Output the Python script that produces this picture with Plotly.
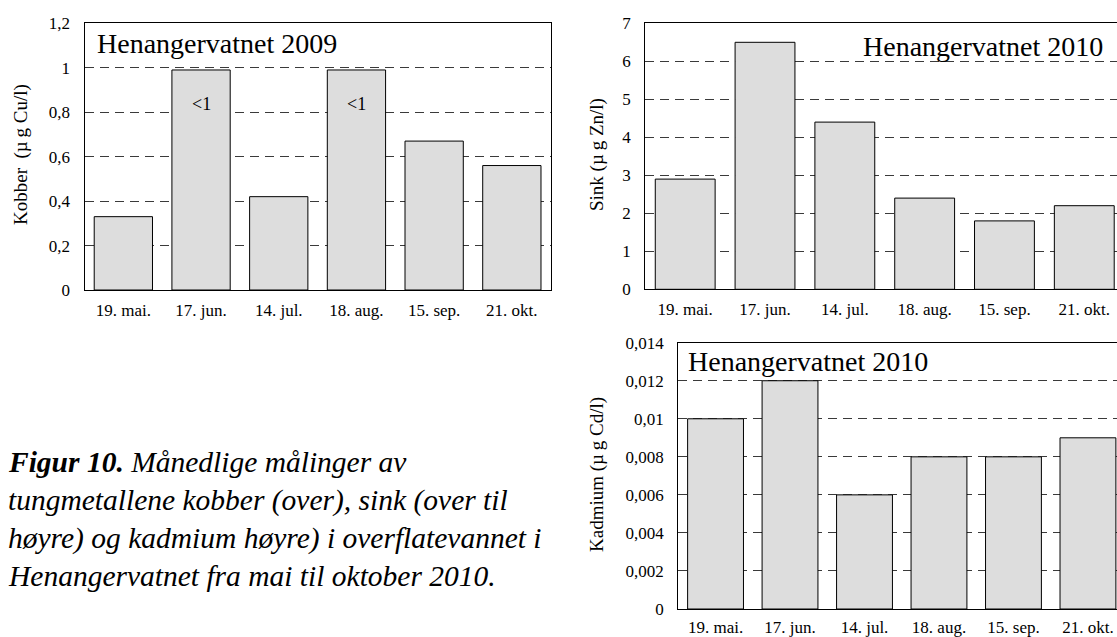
import plotly.graph_objects as go

# ---------------- data ----------------
categories = ["19. mai.", "17. jun.", "14. jul.", "18. aug.", "15. sep.", "21. okt."]
kobber_2009 = [0.33, 0.99, 0.42, 0.99, 0.67, 0.56]
sink_2010 = [2.9, 6.5, 4.4, 2.4, 1.8, 2.2]
kadmium_2010 = [0.010, 0.012, 0.006, 0.008, 0.008, 0.009]

kobber_tickvals = [0, 0.2, 0.4, 0.6, 0.8, 1.0, 1.2]
kobber_ticktext = ["0", "0,2", "0,4", "0,6", "0,8", "1", "1,2"]
sink_tickvals = [0, 1, 2, 3, 4, 5, 6, 7]
sink_ticktext = ["0", "1", "2", "3", "4", "5", "6", "7"]
kadmium_tickvals = [0, 0.002, 0.004, 0.006, 0.008, 0.010, 0.012, 0.014]
kadmium_ticktext = ["0", "0,002", "0,004", "0,006", "0,008", "0,01", "0,012", "0,014"]

below_limit_labels = ["", "<1", "", "<1", "", ""]
caption_lines = [
    "<b><i>Figur 10.</i></b><i> Månedlige målinger av</i>",
    "<i>tungmetallene kobber (over), sink (over til</i>",
    "<i>høyre) og kadmium høyre) i overflatevannet i</i>",
    "<i>Henangervatnet fra mai til oktober 2010.</i>",
]

# ---------------- layout helpers ----------------
W, H = 1117, 637
FONT = "Liberation Serif, Times New Roman, serif"
BAR_FILL = "#dddddd"
GRID = dict(showgrid=True, gridcolor="#3a3a3a", gridwidth=1, griddash="9px,6px")


def px_x(x):
    return x / W


def px_y(y):
    return 1 - y / H


fig = go.Figure()

for vals, n in [(kobber_2009, ""), (sink_2010, "2"), (kadmium_2010, "3")]:
    fig.add_trace(go.Bar(
        x=categories, y=vals,
        xaxis="x" + n, yaxis="y" + n,
        marker=dict(color=BAR_FILL, line=dict(color="#000000", width=1)),
        showlegend=False, hoverinfo="x+y",
    ))

xcommon = dict(
    type="category", showline=True, linecolor="#000000", linewidth=1.2,
    mirror=True, showgrid=False, zeroline=False, ticks="",
    tickfont=dict(family=FONT, size=17, color="#000000"),
    ticklabelstandoff=4,
)
ycommon = dict(
    showline=True, linecolor="#000000", linewidth=1.2, zeroline=False,
    ticks="", tickfont=dict(family=FONT, size=17, color="#000000"),
    ticklabelstandoff=10, **GRID,
)

fig.update_layout(
    width=W, height=H,
    margin=dict(l=0, r=0, t=0, b=0, autoexpand=False),
    paper_bgcolor="white", plot_bgcolor="white",
    separators=", ",
    bargap=0.25,
    font=dict(family=FONT, color="#000000"),
    xaxis=dict(domain=[px_x(84.5), px_x(550.7)], anchor="y", range=[-0.5, 5.5], **xcommon),
    yaxis=dict(domain=[px_y(290), px_y(23.3)], anchor="x", range=[0, 1.2],
               tickvals=kobber_tickvals, ticktext=kobber_ticktext, mirror=True, **ycommon),
    xaxis2=dict(domain=[px_x(645.3), 1], anchor="y2", range=[-0.5, 5.41], **xcommon),
    yaxis2=dict(domain=[px_y(289.3), px_y(23.3)], anchor="x2", range=[0, 7],
                tickvals=sink_tickvals, ticktext=sink_ticktext, mirror=False, **ycommon),
    xaxis3=dict(domain=[px_x(678.3), 1], anchor="y3", range=[-0.5, 5.39], **xcommon),
    yaxis3=dict(domain=[px_y(609), px_y(342.7)], anchor="x3", range=[0, 0.014],
                tickvals=kadmium_tickvals, ticktext=kadmium_ticktext, mirror=False, **ycommon),
)
fig.update_layout(xaxis3_ticklabelstandoff=2)

annotations = []
# panel titles
annotations.append(dict(text="Henangervatnet 2009", xref="paper", yref="paper",
                        x=px_x(95), y=px_y(43), xanchor="left", yanchor="middle",
                        showarrow=False, font=dict(family=FONT, size=28)))
annotations.append(dict(text="Henangervatnet 2010", xref="paper", yref="paper",
                        x=px_x(1105), y=px_y(46), xanchor="right", yanchor="middle",
                        showarrow=False, font=dict(family=FONT, size=28)))
annotations.append(dict(text="Henangervatnet 2010", xref="paper", yref="paper",
                        x=px_x(686), y=px_y(362), xanchor="left", yanchor="middle",
                        showarrow=False, font=dict(family=FONT, size=28)))
# "<1" markers inside bars
for cat, lab in zip(categories, below_limit_labels):
    if lab:
        annotations.append(dict(text=lab, x=cat, y=0.835, xref="x", yref="y",
                                showarrow=False, font=dict(family=FONT, size=18)))
# y-axis titles
annotations.append(dict(text="Kobber  (µ\u2009g Cu/l)", xref="paper", yref="paper",
                        x=px_x(21), y=px_y(155), textangle=-90, showarrow=False,
                        xanchor="center", yanchor="middle", font=dict(family=FONT, size=19)))
annotations.append(dict(text="Sink (µ\u2009g Zn/l)", xref="paper", yref="paper",
                        x=px_x(597), y=px_y(155), textangle=-90, showarrow=False,
                        xanchor="center", yanchor="middle", font=dict(family=FONT, size=19)))
annotations.append(dict(text="Kadmium (µ\u2009g Cd/l)", xref="paper", yref="paper",
                        x=px_x(597), y=px_y(475), textangle=-90, showarrow=False,
                        xanchor="center", yanchor="middle", font=dict(family=FONT, size=19)))
# caption
for k, line in enumerate(caption_lines):
    annotations.append(dict(text=line, xref="paper", yref="paper",
                            x=px_x(6), y=px_y(462 + 38 * k), xanchor="left", yanchor="middle",
                            showarrow=False, font=dict(family=FONT, size=29.5)))

fig.update_layout(annotations=annotations)

# remove the browser's default 8px page margin so the figure fills the window exactly
fig.write_html(
    "out.html",
    config={"displayModeBar": False},
    post_script="document.body.style.margin='0';document.body.style.overflow='hidden';",
)
